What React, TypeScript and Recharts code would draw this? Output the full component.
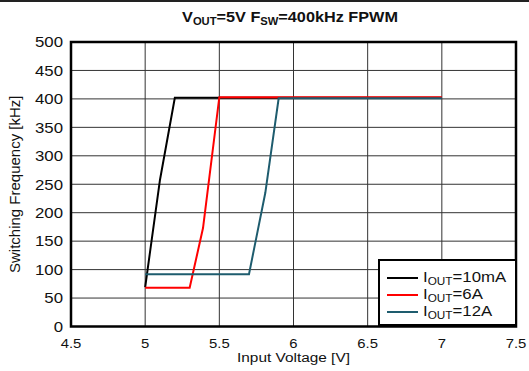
import React from 'react';
import { LineChart, Line, XAxis, YAxis, CartesianGrid, ReferenceArea } from 'recharts';

const xTicks = [4.5, 5, 5.5, 6, 6.5, 7, 7.5];
const yTicks = [0, 50, 100, 150, 200, 250, 300, 350, 400, 450, 500];

const seriesLabels = ['10mA', '6A', '12A'];
const seriesColors = ['#000000', '#ff0000', '#1e5c6e'];

const vin10mA = [5.0, 5.1, 5.2, 7.0];
const fsw10mA = [69, 258, 402, 402];

const vin6A = [5.0, 5.3, 5.39, 5.5, 7.0];
const fsw6A = [68, 68, 173, 403, 403];

const vin12A = [5.0, 5.7, 5.81, 5.9, 7.0];
const fsw12A = [92, 92, 235, 401, 401];

const toPoints = (xs: number[], ys: number[]) => xs.map((x, i) => ({ x, y: ys[i] }));
const seriesData = [toPoints(vin10mA, fsw10mA), toPoints(vin6A, fsw6A), toPoints(vin12A, fsw12A)];

const FONT = '"Liberation Sans", Arial, Helvetica, sans-serif';
const STRETCH = 1.12;
const FS = 15;

const makeTick = (fontSize: number, stretch: number) => (props: any) => {
  const { x, y, payload, textAnchor, verticalAnchor } = props;
  const dy = verticalAnchor === 'start' ? '0.71em' : verticalAnchor === 'end' ? '0' : '0.355em';
  return (
    <text
      x={x}
      y={y}
      dy={dy}
      textAnchor={textAnchor}
      fill="#111"
      fontSize={fontSize}
      fontFamily={FONT}
      transform={`translate(${x},${y}) scale(${stretch},1) translate(${-x},${-y})`}
    >
      {payload.value}
    </text>
  );
};

const XTick = makeTick(13.5, 1.1);
const YTick = makeTick(FS, STRETCH);

const YLabel = (props: any) => {
  const vb = props.viewBox || { x: 0, y: 0, width: 0, height: 0 };
  const cx = vb.x + 15;
  const cy = vb.y + vb.height / 2;
  return (
    <text
      x={cx}
      y={cy}
      dy="0.355em"
      textAnchor="middle"
      fontSize={FS}
      fontFamily={FONT}
      fill="#111"
      transform={`rotate(-90 ${cx} ${cy})`}
    >
      Switching Frequency [kHz]
    </text>
  );
};

const XLabel = (props: any) => {
  const vb = props.viewBox || { x: 0, y: 0, width: 0, height: 0 };
  const cx = vb.x + vb.width / 2;
  const cy = vb.y + 36;
  return (
    <text
      x={cx}
      y={cy}
      textAnchor="middle"
      fontSize={13.5}
      fontFamily={FONT}
      fill="#111"
      transform={`translate(${cx},${cy}) scale(1.14,1) translate(${-cx},${-cy})`}
    >
      Input Voltage [V]
    </text>
  );
};

export default function App() {
  return (
    <div style={{ position: 'absolute', left: 0, top: 0, width: 529, height: 371, background: '#fff', fontFamily: FONT }}>
      <div style={{ position: 'absolute', left: 0, top: 0, width: 529, height: 1.5, background: '#222' }} />
      <div
        style={{
          position: 'absolute',
          left: 290,
          top: 8,
          whiteSpace: 'nowrap',
          fontWeight: 'bold',
          fontSize: 14.5,
          lineHeight: '18px',
          color: '#111',
          transform: `translateX(-50%) scaleX(${STRETCH})`,
          zIndex: 2,
        }}
      >
        V<sub style={{ fontSize: 10, verticalAlign: '-3px' }}>OUT</sub>=5V F
        <sub style={{ fontSize: 10, verticalAlign: '-3px' }}>SW</sub>=400kHz FPWM
      </div>
      <LineChart
        width={529}
        height={371}
        margin={{ top: 42, right: 13, bottom: 0, left: 0 }}
      >
        <CartesianGrid stroke="#333" strokeWidth={1} horizontalValues={yTicks} verticalValues={xTicks} />
        <XAxis
          type="number"
          dataKey="x"
          domain={[4.5, 7.5]}
          ticks={xTicks}
          allowDataOverflow
          height={44.5}
          tickLine={false}
          axisLine={false}
          tickMargin={6}
          tick={<XTick />}
          label={<XLabel />}
        />
        <YAxis
          type="number"
          dataKey="y"
          domain={[0, 500]}
          ticks={yTicks}
          allowDataOverflow
          width={71}
          tickLine={false}
          axisLine={false}
          tick={<YTick />}
          label={<YLabel />}
        />
        {seriesData.map((d, i) => (
          <Line
            key={seriesLabels[i]}
            data={d}
            dataKey="y"
            type="linear"
            stroke={seriesColors[i]}
            strokeWidth={2}
            dot={false}
            activeDot={false}
            isAnimationActive={false}
          />
        ))}
        <ReferenceArea x1={4.5} x2={7.5} y1={0} y2={500} fill="none" fillOpacity={0} stroke="#000" strokeWidth={2.5} ifOverflow="visible" />
      </LineChart>
      <div
        style={{
          position: 'absolute',
          left: 378,
          top: 259,
          width: 139,
          height: 67,
          boxSizing: 'border-box',
          border: '2px solid #000',
          background: '#fff',
          zIndex: 2,
        }}
      >
        {seriesLabels.map((lab, i) => (
          <div key={lab} style={{ position: 'absolute', left: 0, top: 8 + i * 17, height: 17, width: '100%' }}>
            <div style={{ position: 'absolute', left: 7, top: 7.5, width: 31, height: 2.5, background: seriesColors[i] }} />
            <div
              style={{
                position: 'absolute',
                left: 43,
                top: -1,
                whiteSpace: 'nowrap',
                fontSize: FS,
                lineHeight: '17px',
                color: '#111',
                transformOrigin: 'left center',
                transform: `scaleX(${STRETCH})`,
              }}
            >
              I<sub style={{ fontSize: 10.5, verticalAlign: '-3px' }}>OUT</sub>={lab}
            </div>
          </div>
        ))}
      </div>
    </div>
  );
}
